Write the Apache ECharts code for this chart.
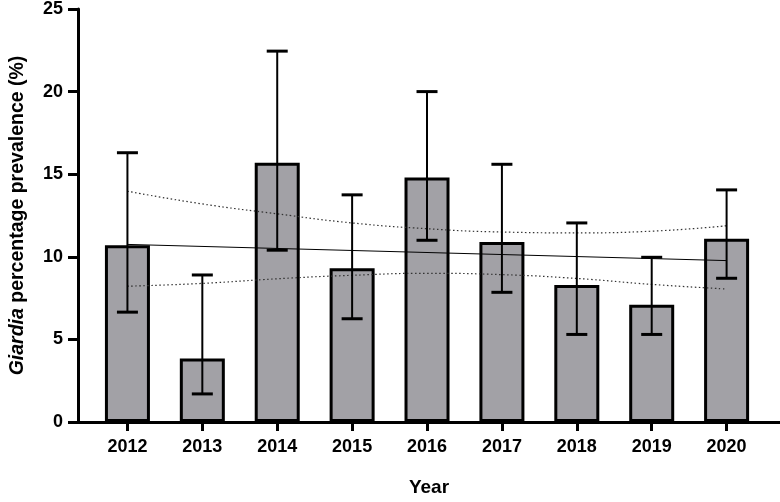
<!DOCTYPE html>
<html>
<head>
<meta charset="utf-8">
<script src="https://cdn.jsdelivr.net/npm/echarts@6/dist/echarts.min.js"></script>
<style>html,body{margin:0;padding:0;background:#fff}#c{width:780px;height:502px}</style>
</head>
<body>
<div id="c"></div>
<script>
const years = [2012, 2013, 2014, 2015, 2016, 2017, 2018, 2019, 2020];
const prevalence = [10.7, 3.85, 15.7, 9.3, 14.8, 10.9, 8.3, 7.1, 11.1];
const errHigh = [16.3, 8.9, 22.45, 13.75, 20.0, 15.6, 12.05, 9.97, 14.05];
const errLow = [6.65, 1.7, 10.4, 6.25, 11.0, 7.85, 5.3, 5.3, 8.7];
const trendYears = [2012, 2020];
const trendValues = [10.75, 9.77];
const ciUpper = [13.97, 13.2, 12.6, 12.05, 11.7, 11.5, 11.45, 11.55, 11.88];
const ciLower = [8.22, 8.39, 8.67, 8.88, 9.0, 8.92, 8.69, 8.33, 8.05];
const yTicks = [0, 5, 10, 15, 20, 25];

const FONT = 'Liberation Sans, Arial, Helvetica, sans-serif';
const chart = echarts.init(document.getElementById('c'), null, {renderer: 'canvas'});

const option = {
  animation: false,
  backgroundColor: '#fff',
  grid: {left: 70, right: 0, top: 6, bottom: 70, containLabel: false},
  xAxis: {
    type: 'value',
    min: 2011.34,
    max: 2020.713,
    name: 'Year',
    nameLocation: 'middle',
    nameGap: 56,
    nameTextStyle: {fontFamily: FONT, fontSize: 19, fontWeight: 'bold', color: '#000'},
    axisLine: {show: true, onZero: false, lineStyle: {color: '#000', width: 3}},
    axisTick: {show: true, customValues: years, length: 9, lineStyle: {color: '#000', width: 3}},
    axisLabel: {
      customValues: years, margin: 16,
      formatter: v => String(v),
      fontFamily: FONT, fontSize: 18, fontWeight: 'bold', color: '#000'
    },
    splitLine: {show: false}
  },
  yAxis: {
    type: 'value',
    min: 0, max: 25, interval: 5,
    name: '{i|Giardia} percentage prevalence (%)',
    nameLocation: 'middle',
    nameGap: 50,
    nameTextStyle: {
      fontFamily: FONT, fontSize: 19.5, fontWeight: 'bold', color: '#000',
      rich: {i: {fontFamily: FONT, fontSize: 19.5, fontWeight: 'bold', fontStyle: 'italic', color: '#000'}}
    },
    axisLine: {show: true, lineStyle: {color: '#000', width: 3}},
    axisTick: {show: true, length: 10, lineStyle: {color: '#000', width: 3}},
    axisLabel: {
      customValues: yTicks, margin: 15,
      fontFamily: FONT, fontSize: 18, fontWeight: 'bold', color: '#000'
    },
    splitLine: {show: false}
  },
  series: [
    {
      type: 'bar',
      data: years.map((y, i) => [y, prevalence[i]]),
      barWidth: 45,
      itemStyle: {color: '#a2a1a6', borderColor: '#000', borderWidth: 3},
      z: 2
    },
    {
      type: 'line',
      data: trendYears.map((y, i) => [y, trendValues[i]]),
      symbol: 'none',
      lineStyle: {color: '#000', width: 1},
      z: 3
    },
    {
      type: 'line',
      data: years.map((y, i) => [y, ciUpper[i]]),
      smooth: true,
      symbol: 'none',
      lineStyle: {color: '#333', width: 1.2, type: [1.5, 2.5]},
      z: 3
    },
    {
      type: 'line',
      data: years.map((y, i) => [y, ciLower[i]]),
      smooth: true,
      symbol: 'none',
      lineStyle: {color: '#333', width: 1.2, type: [1.5, 2.5]},
      z: 3
    },
    {
      type: 'custom',
      data: years.map((y, i) => [y, errLow[i], errHigh[i]]),
      z: 4,
      renderItem: function (params, api) {
        const x = api.value(0);
        const pHi = api.coord([x, api.value(2)]);
        const pLo = api.coord([x, api.value(1)]);
        const half = 10.5;
        return {
          type: 'group',
          children: [
            {type: 'line', shape: {x1: pHi[0], y1: pHi[1], x2: pLo[0], y2: pLo[1]}, style: {stroke: '#000', lineWidth: 2}},
            {type: 'line', shape: {x1: pHi[0] - half, y1: pHi[1], x2: pHi[0] + half, y2: pHi[1]}, style: {stroke: '#000', lineWidth: 3}},
            {type: 'line', shape: {x1: pLo[0] - half, y1: pLo[1], x2: pLo[0] + half, y2: pLo[1]}, style: {stroke: '#000', lineWidth: 3}}
          ]
        };
      }
    }
  ]
};
chart.setOption(option);
</script>
</body>
</html>
